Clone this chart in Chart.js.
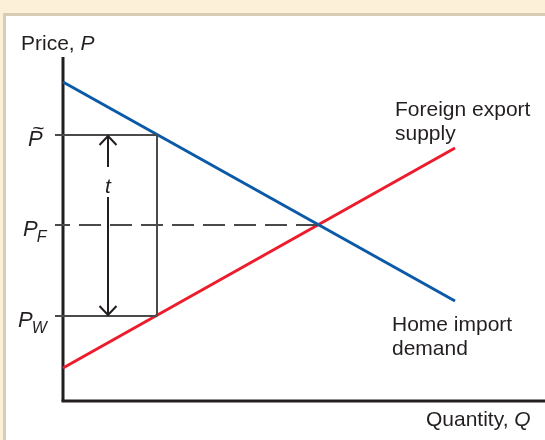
<!DOCTYPE html>
<html><head><meta charset="utf-8">
<script src="https://cdn.jsdelivr.net/npm/chart.js@4"></script>
<style>html,body{margin:0;padding:0;background:#fdf0d9;}canvas{display:block}</style>
</head><body><canvas id="c" width="545" height="440"></canvas>
<script>
// ---- data (quantity / price units) ----
const quantityMax = 482;
const priceMax = 344;
const demandQ = [0, 392];
const demandP = [319, 100];
const supplyQ = [0, 392];
const supplyP = [33, 253];
const priceTickNames = ['P', 'P', 'P'];
const priceTickSubs = ['', 'F', 'W'];
const priceTickTilde = [true, false, false];
const priceTickValues = [266, 176, 85];
const importQ = 94;          // quantity at which the tariff wedge is drawn
const equilibriumQ = 256;    // free-trade quantity
const tariffArrowQ = 45;     // position of the t arrow
const tariffGap = [234, 204];// gap in the arrow for the label t
const tickStartQ = -8;

const FONT = '"Liberation Sans", Arial, Helvetica, sans-serif';
const INK = '#231f20';
const GRAY = '#4a4a4a';

function seg(q1, p1, q2, p2) { return [{x: q1, y: p1}, {x: q2, y: p2}]; }
function zip(qs, ps) { return qs.map((q, i) => ({x: q, y: ps[i]})); }

const base = {showLine: true, pointRadius: 0, clip: false, fill: false, tension: 0};
const datasets = [
  Object.assign({}, base, {label: 'P~', data: seg(tickStartQ, priceTickValues[0], importQ, priceTickValues[0]), borderColor: GRAY, borderWidth: 2}),
  Object.assign({}, base, {label: 'PW', data: seg(tickStartQ, priceTickValues[2], importQ, priceTickValues[2]), borderColor: GRAY, borderWidth: 2}),
  Object.assign({}, base, {label: 'wedge', data: seg(importQ, priceTickValues[0], importQ, priceTickValues[2]), borderColor: GRAY, borderWidth: 2}),
  Object.assign({}, base, {label: 'PF', data: seg(tickStartQ, priceTickValues[1], equilibriumQ, priceTickValues[1]), borderColor: GRAY, borderWidth: 2, borderDash: [22, 9], borderDashOffset: 7}),
  Object.assign({}, base, {label: 't1', data: seg(tariffArrowQ, priceTickValues[0], tariffArrowQ, tariffGap[0]), borderColor: INK, borderWidth: 2}),
  Object.assign({}, base, {label: 't2', data: seg(tariffArrowQ, tariffGap[1], tariffArrowQ, priceTickValues[2]), borderColor: INK, borderWidth: 2}),
  Object.assign({}, base, {label: 'Home import demand', data: zip(demandQ, demandP), borderColor: '#0b5aa8', borderWidth: 3}),
  Object.assign({}, base, {label: 'Foreign export supply', data: zip(supplyQ, supplyP), borderColor: '#ec1c2d', borderWidth: 3}),
  Object.assign({}, base, {label: 'yaxis', data: seg(0, 0, 0, priceMax), borderColor: INK, borderWidth: 3}),
  Object.assign({}, base, {label: 'xaxis', data: seg(0, 0, quantityMax, 0), borderColor: INK, borderWidth: 3, borderCapStyle: 'square'})
];

const decor = {
  id: 'decor',
  beforeDraw(chart) {
    const c = chart.ctx;
    c.save();
    c.fillStyle = '#fdf0d9'; c.fillRect(0, 0, 545, 440);
    c.fillStyle = '#d8ccb3'; c.fillRect(3, 13, 542, 427);
    c.fillStyle = '#ffffff'; c.fillRect(6, 16, 539, 424);
    c.restore();
  },
  afterDatasetsDraw(chart) {
    const c = chart.ctx, xs = chart.scales.x, ys = chart.scales.y;
    c.save();
    // arrow heads
    c.strokeStyle = INK; c.lineWidth = 2; c.lineJoin = 'miter';
    const ax = xs.getPixelForValue(tariffArrowQ);
    const top = ys.getPixelForValue(priceTickValues[0]);
    const bot = ys.getPixelForValue(priceTickValues[2]);
    c.beginPath(); c.moveTo(ax - 8.5, top + 10); c.lineTo(ax, top + 1); c.lineTo(ax + 8.5, top + 10); c.stroke();
    c.beginPath(); c.moveTo(ax - 8.5, bot - 10); c.lineTo(ax, bot - 1); c.lineTo(ax + 8.5, bot - 10); c.stroke();
    // texts
    c.fillStyle = INK; c.textBaseline = 'alphabetic'; c.textAlign = 'left';
    function txt(parts, x, y) {
      let cx = x;
      parts.forEach(([s, it, sz]) => {
        c.font = (it ? 'italic ' : '') + sz + 'px ' + FONT;
        c.fillText(s, cx, y);
        cx += c.measureText(s).width;
      });
    }
    txt([['Price, ', false, 21], ['P', true, 21]], 21, 50);
    txt([['Quantity, ', false, 21], ['Q', true, 21]], 426, 426);
    txt([['Foreign export', false, 21]], 395, 116);
    txt([['supply', false, 21]], 395, 140);
    txt([['Home import', false, 21]], 392, 331);
    txt([['demand', false, 21]], 392, 355);
    c.font = 'italic 21px ' + FONT; c.textAlign = 'center';
    c.fillText('t', ax, 193);
    c.textAlign = 'left';
    const px = [28, 23, 18];
    priceTickValues.forEach((v, i) => {
      const y = ys.getPixelForValue(v) + 11;
      c.font = 'italic 22px ' + FONT;
      c.fillText(priceTickNames[i], px[i], y);
      const w = c.measureText(priceTickNames[i]).width;
      if (priceTickTilde[i]) {
        c.font = 'italic 21px ' + FONT;
        c.fillText('~', px[i] + 4, y - 11);
      }
      if (priceTickSubs[i]) {
        c.font = 'italic 16px ' + FONT;
        c.fillText(priceTickSubs[i], px[i] + w - 1, y + 6);
      }
    });
    c.restore();
  }
};

new Chart(document.getElementById('c'), {
  type: 'scatter',
  data: {datasets},
  options: {
    responsive: false, animation: false, devicePixelRatio: 1,
    layout: {padding: {left: 63, top: 57, right: 0, bottom: 39}},
    plugins: {legend: {display: false}, tooltip: {enabled: false}},
    scales: {
      x: {type: 'linear', display: false, min: 0, max: quantityMax},
      y: {type: 'linear', display: false, min: 0, max: priceMax}
    }
  },
  plugins: [decor]
});
</script></body></html>
